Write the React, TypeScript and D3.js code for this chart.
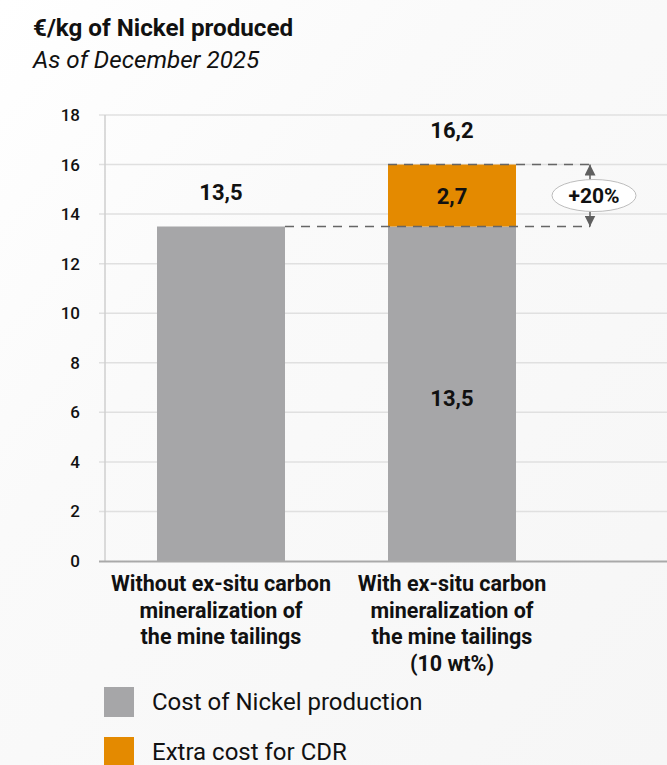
import React from "react";
import * as d3 from "d3";

const categories = ["without", "with"];
const categoryLabels = [
  ["Without ex-situ carbon", "mineralization of", "the mine tailings"],
  ["With ex-situ carbon", "mineralization of", "the mine tailings", "(10 wt%)"],
];
const baseValues = [13.5, 13.5];
const extraValues = [0, 2.5];
const baseLabels = ["", "13,5"];
const extraLabels = ["", "2,7"];
const totalLabels = ["13,5", "16,2"];
const yTicks = [0, 2, 4, 6, 8, 10, 12, 14, 16, 18];
const deltaLabel = "+20%";
const legendItems = ["Cost of Nickel production", "Extra cost for CDR"];
const colors = ["#a6a6a8", "#e48a00"];

const W = 667;
const H = 765;
const FONT = "Roboto, 'Noto Sans', sans-serif";

export default function App() {
  const y = d3.scaleLinear().domain([0, 18]).range([561, 115]);
  const x = d3.scalePoint<string>().domain(categories).range([221, 452]);
  const bw = 128;
  const arrowX = 590;
  const i2 = 1;
  const topY = y(baseValues[i2] + extraValues[i2]);
  const baseY = y(baseValues[i2]);

  return (
    <div style={{ position: "fixed", left: 0, top: 0, width: W, height: H }}>
      <svg width={W} height={H} style={{ display: "block", fontFamily: FONT }}>
        <defs>
          <linearGradient id="bg" x1="0" y1="0" x2="1" y2="1">
            <stop offset="0" stopColor="#ffffff" />
            <stop offset="0.35" stopColor="#fafafa" />
            <stop offset="1" stopColor="#f6f6f6" />
          </linearGradient>
          <marker id="ah" viewBox="0 0 10 10" refX="10" refY="5" markerWidth="11" markerHeight="11" markerUnits="userSpaceOnUse" orient="auto-start-reverse">
            <path d="M0,0 L10,5 L0,10 z" fill="#5f5f5f" />
          </marker>
        </defs>
        <rect width={W} height={H} fill="url(#bg)" />

        <text x={33} y={36} fontSize={24.2} fontWeight={700} fill="#111">€/kg of Nickel produced</text>
        <text x={33} y={68} fontSize={24.2} fontStyle="italic" fill="#111">As of December 2025</text>

        {yTicks.map((t) => (
          <g key={t}>
            {t > 0 && (
              <line x1={99} x2={W} y1={y(t)} y2={y(t)} stroke="#e0e0e0" strokeWidth={1.5} />
            )}
            <text x={80} y={y(t) + 6} textAnchor="end" fontSize={17} fontWeight={500} fill="#111">
              {t}
            </text>
          </g>
        ))}
        <line x1={105} x2={105} y1={y(18)} y2={y(0)} stroke="#cfcfcf" strokeWidth={1.5} />

        {categories.map((c, i) => {
          const cx = x(c)!;
          const b = baseValues[i];
          const e = extraValues[i];
          return (
            <g key={c}>
              <rect x={cx - bw / 2} y={y(b)} width={bw} height={y(0) - y(b)} fill={colors[0]} />
              {e > 0 && (
                <rect x={cx - bw / 2} y={y(b + e)} width={bw} height={y(b) - y(b + e)} fill={colors[1]} />
              )}
              {baseLabels[i] && (
                <text x={cx} y={(y(b) + y(0)) / 2 + 12} textAnchor="middle" fontSize={22} fontWeight={700} fill="#111">
                  {baseLabels[i]}
                </text>
              )}
              {extraLabels[i] && (
                <text x={cx} y={(y(b) + y(b + e)) / 2 + 8} textAnchor="middle" fontSize={22} fontWeight={700} fill="#111">
                  {extraLabels[i]}
                </text>
              )}
              <text x={cx} y={y(b + e) - 27} textAnchor="middle" fontSize={22} fontWeight={700} fill="#111">
                {totalLabels[i]}
              </text>
              {categoryLabels[i].map((l, k) => (
                <text key={k} x={cx} y={591 + k * 26.7} textAnchor="middle" fontSize={21.5} fontWeight={700} fill="#111">
                  {l}
                </text>
              ))}
            </g>
          );
        })}

        <line x1={99} x2={W} y1={y(0) + 0.5} y2={y(0) + 0.5} stroke="#a9a9a9" strokeWidth={2} />

        <line x1={x(categories[1])! - bw / 2} x2={arrowX} y1={topY} y2={topY} stroke="#666" strokeWidth={1.5} strokeDasharray="9,7" />
        <line x1={x(categories[0])! + bw / 2} x2={arrowX} y1={baseY} y2={baseY} stroke="#666" strokeWidth={1.5} strokeDasharray="9,7" />
        <line x1={arrowX} x2={arrowX} y1={(topY + baseY) / 2} y2={topY} stroke="#5f5f5f" strokeWidth={1.5} markerEnd="url(#ah)" />
        <line x1={arrowX} x2={arrowX} y1={(topY + baseY) / 2} y2={baseY} stroke="#5f5f5f" strokeWidth={1.5} markerEnd="url(#ah)" />
        <ellipse cx={594} cy={(topY + baseY) / 2} rx={42} ry={16} fill="#fff" stroke="#bdbdbd" strokeWidth={1} />
        <text x={594} y={(topY + baseY) / 2 + 7.5} textAnchor="middle" fontSize={21} fontWeight={700} fill="#111">
          {deltaLabel}
        </text>

        {legendItems.map((l, i) => (
          <g key={l}>
            <rect x={104} y={687 + i * 50} width={30} height={30} fill={colors[i]} />
            <text x={152} y={710 + i * 50} fontSize={24} fill="#111">
              {l}
            </text>
          </g>
        ))}
      </svg>
    </div>
  );
}
